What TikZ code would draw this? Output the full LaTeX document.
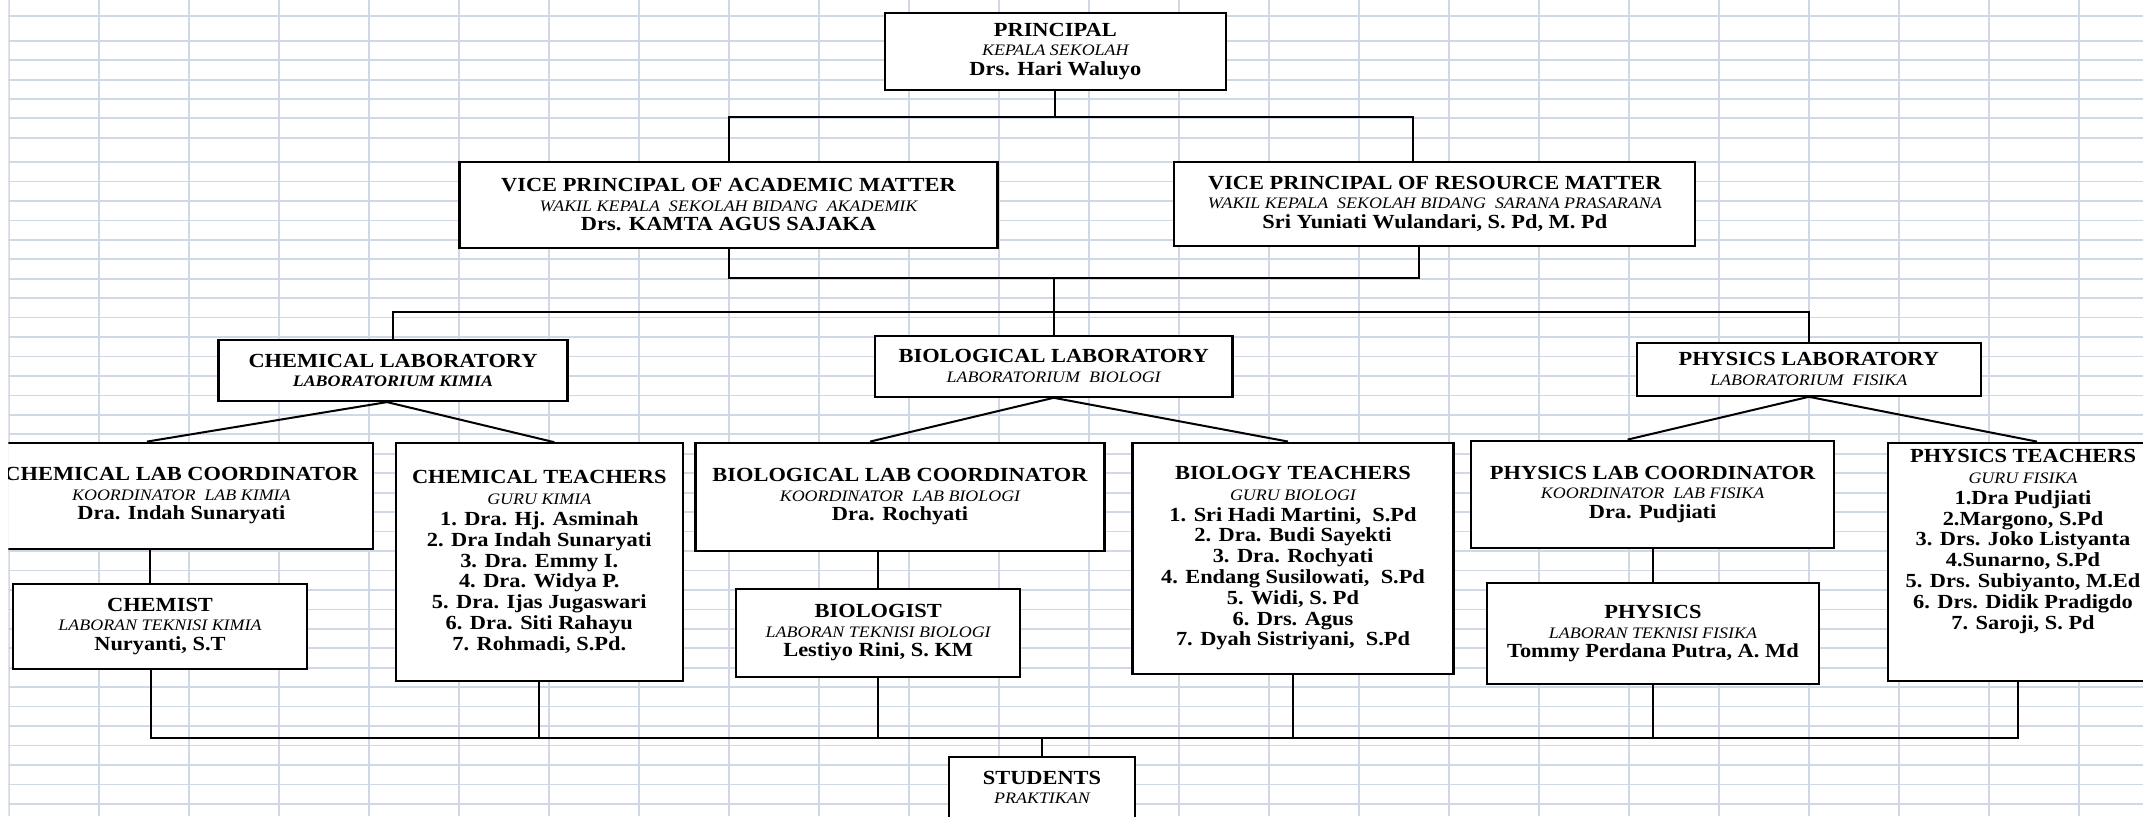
\documentclass[tikz,border=0pt]{standalone}
\usepackage{fontspec}
\setmainfont{Liberation Serif}[FakeStretch=1.12]
\usepackage{tikz}
\definecolor{gridc}{RGB}{208,215,229}
\def\subline#1{{\fontsize{16}{19.5}\selectfont\mdseries\itshape #1}}
\def\subbold#1{{\fontsize{16}{19.5}\selectfont\bfseries\itshape #1}}
\tikzset{
	box/.style={draw, line width=2.2pt, fill=white, inner sep=0pt, align=center, font=\fontsize{20}{19.5}\selectfont\bfseries},
	roster/.style={box, font=\fontsize{20}{20.8}\selectfont\bfseries},
	wire/.style={line width=2pt},
	gridline/.style={draw=gridc, line width=1.7pt}
}

\begin{document}
\begin{tikzpicture}[x=1pt,y=1pt]
			%%%%% START %%%%%
			
			\useasboundingbox (0,0) rectangle (2143,-816);
			\clip (8.4,0) rectangle (2143,-816);
			
			% sheet grid
			\foreach \gx in {0,...,23}
				\draw[gridline] ({9.2+90*\gx},0) -- ({9.2+90*\gx},-816);
			\foreach \gy in {16,40.7,60.3,80,99,118.3,137.7}
				\draw[gridline] (0,-\gy) -- (2143,-\gy);
			\foreach \gk in {0,...,33}
				\draw[gridline] (0,{-162-19.45*\gk}) -- (2143,{-162-19.45*\gk});
			
			\coordinate (upbar) at (0,-117.3);
			\coordinate (midbar) at (0,-278.3);
			\coordinate (labbar) at (0,-311.7);
			\coordinate (bus) at (0,-737.7);
			
			% heads
			\node[box, minimum width=340.7pt, minimum height=77.3pt] (principal) at (1055.3,-51.3) {PRINCIPAL\\ \subline{KEPALA SEKOLAH}\\ Drs. Hari Waluyo};
			\node[box, minimum width=538pt, minimum height=85.7pt] (viceacad) at (728.5,-204.8) {VICE PRINCIPAL OF ACADEMIC MATTER\\ \subline{WAKIL KEPALA\ \ SEKOLAH BIDANG\ \ AKADEMIK}\\ Drs. KAMTA AGUS SAJAKA};
			\node[box, minimum width=521pt, minimum height=84pt] (viceres) at (1434.8,-203.7) {VICE PRINCIPAL OF RESOURCE MATTER\\ \subline{WAKIL KEPALA\ \ SEKOLAH BIDANG\ \ SARANA PRASARANA}\\ Sri Yuniati Wulandari, S. Pd, M. Pd};
			
			% labs
			\node[box, minimum width=349pt, minimum height=61pt] (chemlab) at (393,-370.5) {CHEMICAL LABORATORY\\ \subbold{LABORATORIUM KIMIA}};
			\node[box, minimum width=357.7pt, minimum height=61pt] (biolab) at (1053.7,-366.2) {BIOLOGICAL LABORATORY\\ \subline{LABORATORIUM\ \ BIOLOGI}};
			\node[box, minimum width=343.6pt, minimum height=53pt] (physlab) at (1808.8,-369.2) {PHYSICS LABORATORY\\ \subline{LABORATORIUM\ \ FISIKA}};
			
			% coordinators and teachers
			\node[box, minimum width=383pt, minimum height=106.6pt] (chemcoord) at (181.4,-496) {CHEMICAL LAB COORDINATOR\\ \subline{KOORDINATOR\ \ LAB KIMIA}\\ Dra. Indah Sunaryati};
			\node[roster, minimum width=286.7pt, minimum height=237.4pt] (chemteach) at (539.3,-562) {CHEMICAL TEACHERS\\ \subline{GURU KIMIA}\\ 1. Dra. Hj. Asminah\\ 2. Dra Indah Sunaryati\\ 3. Dra. Emmy I.\\ 4. Dra. Widya P.\\ 5. Dra. Ijas Jugaswari\\ 6. Dra. Siti Rahayu\\ 7. Rohmadi, S.Pd.};
			\node[box, minimum width=409pt, minimum height=108pt] (biocoord) at (900,-496.7) {BIOLOGICAL LAB COORDINATOR\\ \subline{KOORDINATOR\ \ LAB BIOLOGI}\\ Dra. Rochyati};
			\node[roster, minimum width=321pt, minimum height=231.3pt] (bioteach) at (1293,-558.3) {BIOLOGY TEACHERS\\ \subline{GURU BIOLOGI}\\ 1. Sri Hadi Martini,\ \ S.Pd\\ 2. Dra. Budi Sayekti\\ 3. Dra. Rochyati\\ 4. Endang Susilowati,\ \ S.Pd\\ 5. Widi, S. Pd\\ 6. Drs. Agus\\ 7. Dyah Sistriyani,\ \ S.Pd};
			\node[box, minimum width=363pt, minimum height=107pt] (physcoord) at (1652.6,-494.2) {PHYSICS LAB COORDINATOR\\ \subline{KOORDINATOR\ \ LAB FISIKA}\\ Dra. Pudjiati};
			\node[roster, minimum width=270pt, minimum height=238pt] (physteach) at (2023,-561.7) {PHYSICS TEACHERS\\ \subline{GURU FISIKA}\\ 1.Dra Pudjiati\\ 2.Margono, S.Pd\\ 3. Drs. Joko Listyanta\\ 4.Sunarno, S.Pd\\ 5. Drs. Subiyanto, M.Ed\\ 6. Drs. Didik Pradigdo\\ 7. Saroji, S. Pd\\[24pt] \mbox{}};
			
			% laboran
			\node[box, minimum width=294.3pt, minimum height=85pt] (chemist) at (160,-626.5) {CHEMIST\\ \subline{LABORAN TEKNISI KIMIA}\\ Nuryanti, S.T};
			\node[box, minimum width=283.7pt, minimum height=88pt] (biologist) at (878.2,-632.7) {BIOLOGIST\\ \subline{LABORAN TEKNISI BIOLOGI}\\ Lestiyo Rini, S. KM};
			\node[box, minimum width=332.3pt, minimum height=100.7pt] (physicist) at (1652.9,-633.7) {PHYSICS\\ \subline{LABORAN TEKNISI FISIKA}\\ Tommy Perdana Putra, A. Md};
			
			\node[box, minimum width=186pt, minimum height=61pt] (students) at (1042,-787.2) {STUDENTS\\ \subline{PRAKTIKAN}};
			
			% lines
			\draw[wire] (principal.south) -- (principal.south |- upbar);
			\draw[wire] (viceacad.north) -- (viceacad.north |- upbar) -- ([xshift=-21.5pt]viceres.north |- upbar) -- ([xshift=-21.5pt]viceres.north);
			\draw[wire] (viceacad.south) -- (viceacad.south |- midbar) -- ([xshift=-16pt]viceres.south |- midbar) -- ([xshift=-16pt]viceres.south);
			\draw[wire] (biolab.north |- midbar) -- (biolab.north);
			\draw[wire] (chemlab.north) -- (chemlab.north |- labbar) -- (physlab.north |- labbar) -- (physlab.north);
			
			\draw[wire] ([xshift=-34.5pt]chemcoord.north) -- ([xshift=-6pt]chemlab.south) -- ([xshift=15pt]chemteach.north);
			\draw[wire] ([xshift=-30pt]biocoord.north) -- (biolab.south) -- ([xshift=-5pt]bioteach.north);
			\draw[wire] ([xshift=-25pt]physcoord.north) -- (physlab.south) -- ([xshift=14pt]physteach.north);
			
			\draw[wire] ([xshift=-10pt]chemist.north) -- ([xshift=-10pt]chemist.north |- chemcoord.south);
			\draw[wire] (biologist.north) -- (biologist.north |- biocoord.south);
			\draw[wire] (physicist.north) -- (physicist.north |- physcoord.south);
			
			\draw[wire] ([xshift=-9pt]chemist.south) -- ([xshift=-9pt]chemist.south |- bus) -- ([xshift=-5pt]physteach.south |- bus) -- ([xshift=-5pt]physteach.south);
			\draw[wire] (chemteach.south) -- (chemteach.south |- bus);
			\draw[wire] (biologist.south) -- (biologist.south |- bus);
			\draw[wire] (bioteach.south) -- (bioteach.south |- bus);
			\draw[wire] (physicist.south) -- (physicist.south |- bus);
			\draw[wire] (students.north) -- (students.north |- bus);
			
			%%%%% END %%%%%
\end{tikzpicture}
\end{document}
